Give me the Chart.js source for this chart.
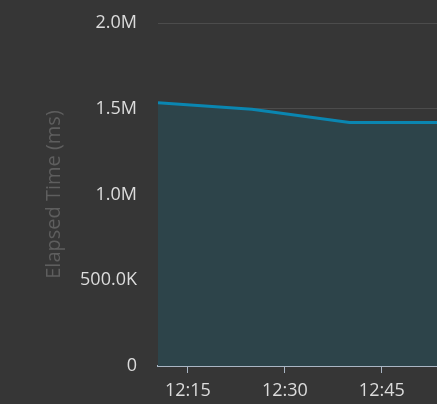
<!DOCTYPE html>
<html>
<head>
<meta charset="utf-8">
<script src="https://cdn.jsdelivr.net/npm/chart.js@4/dist/chart.umd.min.js"></script>
<style>
  html, body { margin: 0; padding: 0; background: #363636; overflow: hidden; width: 437px; height: 404px; }
  canvas { display: block; }
</style>
</head>
<body>
<canvas id="c" width="640" height="404"></canvas>
<script>
// Times in minutes since midnight
const sampleTimes = [730.37, 744.9, 760.0, 775.0, 790.0, 803.4];
const elapsedMs = [1535000, 1497000, 1420000, 1420000, 1420000, 1420000];
const xTickTimes = [735, 750, 765, 780, 795];
const yTickValues = [0, 500000, 1000000, 1500000, 2000000];
const xMin = 730.37, xMax = 803.4;

function fmtTime(m) {
  const h = Math.floor(m / 60), mm = Math.round(m % 60);
  return h + ':' + String(mm).padStart(2, '0');
}
function fmtVal(v) {
  if (v === 0) return '0';
  if (v >= 1e6) return (v / 1e6).toFixed(1) + 'M';
  return (v / 1e3).toFixed(1) + 'K';
}

const points = sampleTimes.map((t, i) => ({ x: t, y: elapsedMs[i] }));

new Chart(document.getElementById('c'), {
  type: 'line',
  data: {
    datasets: [{
      data: points,
      borderColor: '#0a86b1',
      backgroundColor: '#2d444a',
      borderWidth: 3,
      fill: 'origin',
      pointRadius: 0,
      tension: 0
    }]
  },
  options: {
    responsive: false,
    animation: false,
    layout: { padding: { top: 23, left: 0, right: 10, bottom: 0 } },
    plugins: { legend: { display: false }, tooltip: { enabled: false } },
    scales: {
      x: {
        type: 'linear',
        min: xMin, max: xMax,
        afterBuildTicks: s => { s.ticks = xTickTimes.map(v => ({ value: v })); },
        afterFit: s => { s.height = 38; },
        grid: { drawOnChartArea: false, drawTicks: true, tickLength: 7, color: '#aab6c4', lineWidth: 1 },
        border: { display: true, color: '#aab6c4', width: 2 },
        ticks: {
          color: '#dcdcdc', padding: 7, maxRotation: 0, autoSkip: false,
          font: { family: 'Open Sans', size: 18 },
          callback: v => fmtTime(v)
        }
      },
      y: {
        min: 0, max: 2000000,
        afterBuildTicks: s => { s.ticks = yTickValues.map(v => ({ value: v })); },
        afterFit: s => { s.width = 158; },
        grid: { color: '#4c4c4c', lineWidth: 1, drawTicks: true, tickLength: 18, tickColor: 'rgba(0,0,0,0)' },
        border: { display: false },
        ticks: {
          color: '#dcdcdc', padding: 3,
          font: { family: 'Open Sans', size: 18 },
          callback: v => fmtVal(v)
        },
        title: {
          display: true, text: 'Elapsed Time (ms)', color: '#5e5e5e',
          font: { family: 'Open Sans', size: 20 },
          padding: { top: 42, bottom: 0 }
        }
      }
    }
  }
});
</script>
</body>
</html>
